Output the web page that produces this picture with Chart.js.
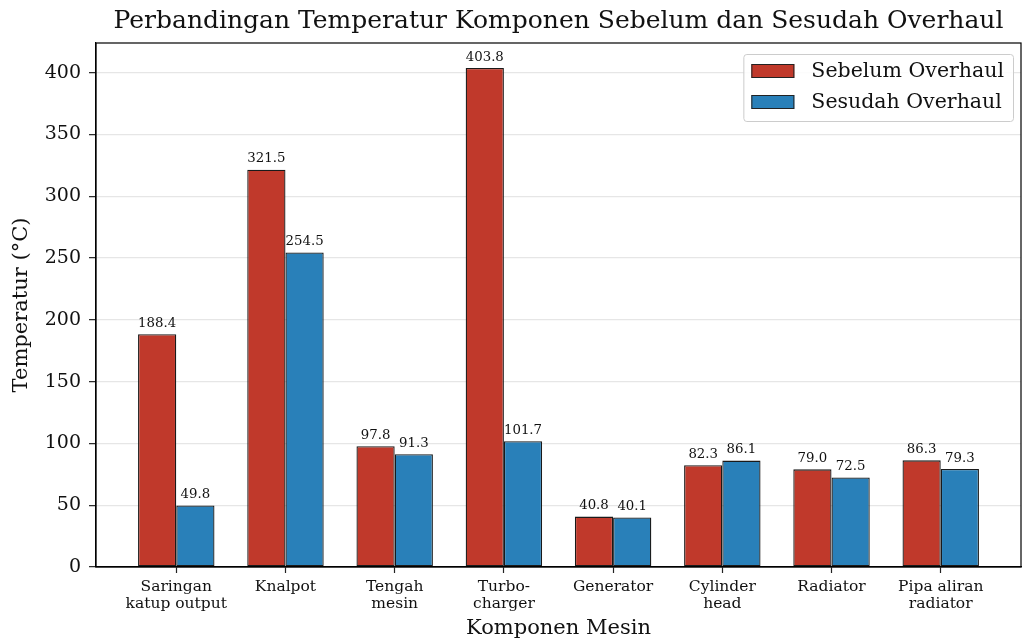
<!DOCTYPE html>
<html>
<head>
<meta charset="utf-8">
<script src="https://cdn.jsdelivr.net/npm/chart.js@4/dist/chart.umd.min.js"></script>
<style>
  html, body { margin: 0; padding: 0; background: #fff; }
  #wrap { width: 1022px; height: 641px; }
</style>
</head>
<body>
<div id="wrap"><canvas id="chart" width="1022" height="641"></canvas></div>
<script>
// Data
const categories = [
    ['Saringan', 'katup output'],
    ['Knalpot'],
    ['Tengah', 'mesin'],
    ['Turbo-', 'charger'],
    ['Generator'],
    ['Cylinder', 'head'],
    ['Radiator'],
    ['Pipa aliran', 'radiator']
];
const sebelum = [188.4, 321.5, 97.8, 403.8, 40.8, 82.3, 79.0, 86.3];
const sesudah = [49.8, 254.5, 91.3, 101.7, 40.1, 86.1, 72.5, 79.3];
const seriesNames = ['Sebelum Overhaul', 'Sesudah Overhaul'];
const yTicks = [0, 50, 100, 150, 200, 250, 300, 350, 400];

const FONT = "'DejaVu Serif', serif";

function toPoints(values) {
    return values.map(function(v, i) { return { x: i, y: v }; });
}

// value labels above each bar
const barLabels = {
    id: 'barLabels',
    afterDatasetsDraw(chart) {
        const ctx = chart.ctx;
        ctx.save();
        ctx.font = '13.3px ' + FONT;
        ctx.fillStyle = '#111';
        ctx.textAlign = 'center';
        ctx.textBaseline = 'bottom';
        chart.data.datasets.forEach(function(ds, di) {
            chart.getDatasetMeta(di).data.forEach(function(bar, i) {
                ctx.fillText(ds.data[i].y.toFixed(1), bar.x, bar.y - 4);
            });
        });
        ctx.restore();
    }
};

// box around the plot + legend inside upper right
const frameAndLegend = {
    id: 'frameAndLegend',
    afterDraw(chart) {
        const ctx = chart.ctx;
        const a = chart.chartArea;
        ctx.save();
        ctx.strokeStyle = '#000';
        ctx.lineWidth = 1.2;
        ctx.strokeRect(a.left, a.top, a.right - a.left, a.bottom - a.top);

        ctx.font = '20.5px ' + FONT;
        let textW = 0;
        chart.data.datasets.forEach(function(ds) {
            textW = Math.max(textW, ctx.measureText(ds.label).width);
        });
        const boxW = 8 + 43 + 17 + textW + 9;
        const boxH = 67;
        const bx = a.right - 8 - boxW;
        const by = a.top + 11;
        ctx.fillStyle = 'rgba(255,255,255,0.85)';
        ctx.strokeStyle = '#cccccc';
        ctx.lineWidth = 1;
        ctx.beginPath();
        ctx.roundRect(bx + 0.5, by + 0.5, boxW, boxH, 3);
        ctx.fill();
        ctx.stroke();

        chart.data.datasets.forEach(function(ds, i) {
            const cy = by + 17 + i * 31;
            ctx.fillStyle = ds.backgroundColor;
            ctx.fillRect(bx + 8, cy - 7, 43, 14);
            ctx.strokeStyle = '#222';
            ctx.strokeRect(bx + 8.5, cy - 6.5, 42, 13);
            ctx.fillStyle = '#111';
            ctx.textAlign = 'left';
            ctx.textBaseline = 'middle';
            ctx.fillText(ds.label, bx + 8 + 43 + 17, cy + 1);
        });
        ctx.restore();
    }
};

const ctx = document.getElementById('chart').getContext('2d');
new Chart(ctx, {
    type: 'bar',
    data: {
        datasets: [{
            label: seriesNames[0],
            data: toPoints(sebelum),
            backgroundColor: '#c0392b',
            borderColor: '#1a1a1a',
            borderWidth: 1.3,
            borderSkipped: false
        }, {
            label: seriesNames[1],
            data: toPoints(sesudah),
            backgroundColor: '#2980b9',
            borderColor: '#1a1a1a',
            borderWidth: 1.3,
            borderSkipped: false
        }]
    },
    options: {
        responsive: false,
        animation: false,
        layout: { padding: { left: 0, right: 1, top: 0, bottom: 0 } },
        categoryPercentage: 0.7,
        barPercentage: 1.0,
        plugins: {
            legend: { display: false },
            tooltip: { enabled: false },
            title: {
                display: true,
                fullSize: false,
                text: 'Perbandingan Temperatur Komponen Sebelum dan Sesudah Overhaul',
                color: '#111',
                font: { family: FONT, size: 25, weight: 'normal' },
                padding: { top: 6, bottom: 7 }
            }
        },
        scales: {
            x: {
                type: 'linear',
                offset: false,
                min: -0.735,
                max: 7.735,
                afterFit(scale) { scale.height = 74; },
                grid: { display: true, drawOnChartArea: false, offset: false, tickLength: 6, tickColor: '#222', tickWidth: 1.2 },
                border: { color: '#000', width: 1.2 },
                ticks: {
                    stepSize: 1,
                    includeBounds: false,
                    autoSkip: false,
                    maxRotation: 0,
                    padding: 5,
                    color: '#111',
                    font: { family: FONT, size: 15.5, lineHeight: 1.1 },
                    callback: function(v) {
                        return Number.isInteger(v) && categories[v] ? categories[v] : '';
                    }
                },
                title: {
                    display: true,
                    text: 'Komponen Mesin',
                    color: '#111',
                    font: { family: FONT, size: 21 },
                    padding: { top: 0, bottom: 0 }
                }
            },
            y: {
                min: 0,
                max: 424,
                afterFit(scale) { scale.width = 96; },
                afterBuildTicks(scale) {
                    scale.ticks = yTicks.map(function(v) { return { value: v }; });
                },
                grid: { color: '#e6e6e6', lineWidth: 1.3, tickLength: 7, tickColor: '#222', tickWidth: 1.2 },
                border: { color: '#000', width: 1.2 },
                ticks: {
                    padding: 8,
                    color: '#111',
                    font: { family: FONT, size: 19 }
                },
                title: {
                    display: true,
                    text: 'Temperatur (°C)',
                    color: '#111',
                    font: { family: FONT, size: 21 },
                    padding: { top: 9, bottom: 0 }
                }
            }
        }
    },
    plugins: [barLabels, frameAndLegend]
});
</script>
</body>
</html>
